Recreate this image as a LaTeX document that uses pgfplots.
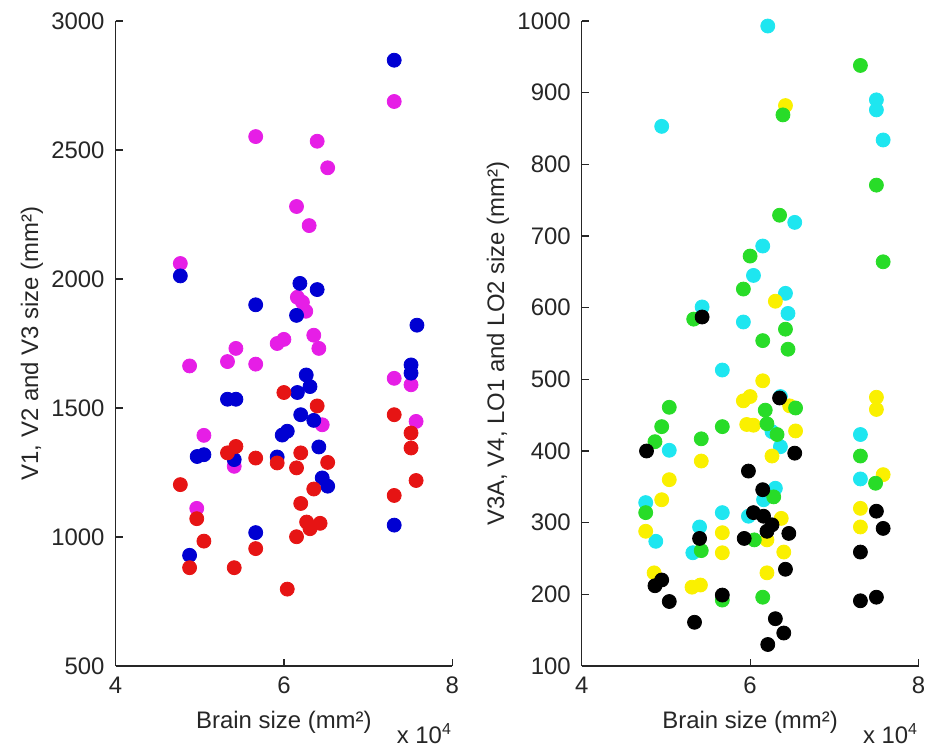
\documentclass[border=0pt]{standalone}
\usepackage{fontspec}
\setmainfont{Liberation Sans}
\usepackage{pgfplots}
\pgfplotsset{compat=1.18}
\definecolor{cmag}{RGB}{230,30,230}
\definecolor{cblue}{RGB}{0,0,210}
\definecolor{cred}{RGB}{230,20,20}
\definecolor{ccyan}{RGB}{30,230,240}
\definecolor{cgreen}{RGB}{40,220,40}
\definecolor{cyellow}{RGB}{250,240,0}
\pgfplotsset{mystyle/.style={
  scale only axis, width=168.4bp, height=322.5bp,
  axis lines=left, axis line style={-, black!85, line width=0.6bp},
  tick style={black!85, line width=0.6bp}, major tick length=3.5bp, tick align=inside,
  xmin=40000, xmax=80000, xtick={40000,60000,80000}, xticklabels={4,6,8}, scaled x ticks=false,
  /pgf/number format/assume math mode=true,
  /pgf/number format/1000 sep={},
  tick label style={font=\fontsize{12}{14}\selectfont, black!85},
  label style={font=\fontsize{12}{14}\selectfont, black!85},
  xlabel={Brain size (mm²)},
  xlabel style={at={(axis description cs:0.5,0)}, anchor=north, yshift=-19bp},
  ylabel style={at={(axis description cs:-0.1945,0.5)}, anchor=south},
  xticklabel style={yshift=-2bp},
  yticklabel style={xshift=-2bp},
  clip=false,
}}
\begin{document}
\begin{tikzpicture}
\useasboundingbox (0,0) rectangle (463.5bp,374bp);
\begin{axis}[mystyle, at={(57.75bp,41bp)}, anchor=south west,
  ymin=500, ymax=3000, ytick={500,1000,1500,2000,2500,3000},
  ylabel={V1, V2 and V3 size (mm²)}]
\addplot[only marks, mark=*, color=cmag, mark size=3.5bp] coordinates {
(73100,2688) (56650,2552) (63950,2534) (65200,2431) (61500,2281) (63000,2207) (47700,2060) (61600,1929) (62200,1910) (62600,1875) (60000,1766) (59200,1750) (63550,1782) (64150,1731) (54300,1731) (53300,1680) (56650,1670) (48800,1663) (73100,1615) (75100,1590) (64550,1435) (75700,1448) (50500,1394) (54100,1274) (49650,1111)};
\addplot[only marks, mark=*, color=cblue, mark size=3.5bp] coordinates {
(73100,2848) (47700,2012) (61900,1983) (63950,1959) (56650,1900) (61500,1859) (75800,1821) (75100,1667) (75100,1635) (62650,1628) (63100,1583) (61600,1560) (53300,1534) (54300,1534) (62000,1474) (63550,1452) (59800,1395) (60400,1410) (49700,1312) (50500,1319) (54100,1300) (59200,1310) (64150,1349) (64550,1229) (65200,1197) (73100,1046) (56650,1017) (48800,929)};
\addplot[only marks, mark=*, color=cred, mark size=3.5bp] coordinates {
(60000,1560) (63950,1508) (73100,1474) (75100,1403) (75100,1345) (75700,1219) (73100,1161) (53300,1326) (54300,1351) (56650,1306) (59200,1287) (62000,1326) (61500,1268) (65200,1289) (63550,1186) (47700,1203) (49650,1071) (50500,984) (62000,1130) (62700,1058) (63100,1032) (64300,1053) (61500,1001) (56650,955) (48800,881) (54100,881) (60400,798)};
\node[anchor=base east, inner sep=0pt, font=\fontsize{12}{14}\selectfont, text=black!85] at (rel axis cs:1,0) [yshift=-38.5bp] {x 10\textsuperscript{4}};
\end{axis}
\begin{axis}[mystyle, at={(290.85bp,41bp)}, anchor=south west,
  ymin=100, ymax=1000, ytick={100,200,...,1000},
  ylabel={V3A, V4, LO1 and LO2 size (mm²)}]
\addplot[only marks, mark=*, color=ccyan, mark size=3.5bp] coordinates {
(62100,993) (75000,890) (75000,876) (49500,853) (75800,834) (65300,719) (61500,686) (60400,645) (64200,620) (54300,601) (59200,580) (64500,592) (56700,513) (63600,476) (50400,401) (47600,328) (56700,314) (54000,294) (48800,274) (53200,258) (62600,427) (63600,406) (63000,348) (61600,332) (59800,309) (73100,423) (73100,361)};
\addplot[only marks, mark=*, color=cyellow, mark size=3.5bp] coordinates {
(64200,882) (63000,609) (61500,498) (59200,470) (60000,476) (75000,475) (75000,458) (59600,437) (54200,386) (50400,360) (49500,332) (47600,288) (64700,463) (60400,436) (65400,428) (62600,393) (63700,306) (62000,276) (64000,259) (62000,230) (73100,320) (73100,294) (75800,367) (56700,286) (56700,258) (48600,230) (53100,210) (54100,213)};
\addplot[only marks, mark=*, color=cgreen, mark size=3.5bp] coordinates {
(73100,938) (63900,869) (75000,771) (63500,729) (60000,672) (75800,664) (59200,626) (53300,584) (64200,570) (61500,554) (64500,542) (50400,461) (49500,434) (56700,434) (48700,413) (54200,417) (47600,314) (65400,460) (61800,457) (62000,438) (63200,423) (62800,336) (60500,276) (61500,196) (73100,393) (74900,355) (54200,261) (56700,192)};
\addplot[only marks, mark=*, color=black, mark size=3.5bp] coordinates {
(54300,587) (63500,474) (47700,400) (59800,372) (65300,397) (61500,346) (60400,314) (61600,309) (62600,297) (62000,288) (64600,285) (59300,278) (64200,235) (63000,166) (64000,146) (62100,130) (73100,259) (73100,191) (75000,316) (75800,292) (75000,196) (54000,278) (49500,220) (48700,212) (50400,190) (53400,161) (56700,199)};
\node[anchor=base east, inner sep=0pt, font=\fontsize{12}{14}\selectfont, text=black!85] at (rel axis cs:1,0) [yshift=-38.5bp] {x 10\textsuperscript{4}};
\end{axis}
\end{tikzpicture}
\end{document}
